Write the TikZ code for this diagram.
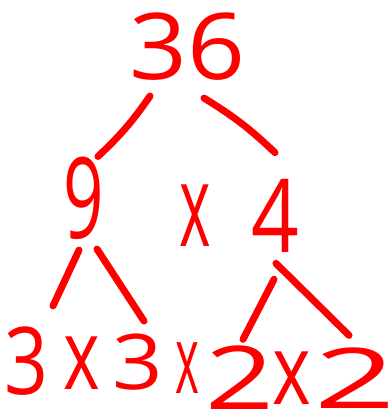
\documentclass[tikz,border=0pt]{standalone}
\usepackage{fontspec}
\setmainfont{Open Sans}
\usetikzlibrary{calc}
\tikzstyle{digit} = [
    text=red,
    inner sep=0pt
]
\tikzstyle{branch} = [
    draw=red,
    line width=5pt,
    line cap=round
]
\newcommand{\handsize}[1]{\fontsize{#1}{#1}\selectfont}

\begin{document}
\begin{tikzpicture}[x=0.025cm, y=-0.025cm]
        \useasboundingbox (0,0) rectangle (388,410);

        % Top
        \node[digit, font=\handsize{65.5pt}, xscale=1.1] (n36) at (187,47) {36};

        % Middle row
        \node[digit, font=\handsize{80pt}, xscale=0.63] (n9) at (84,198) {9};
        \node[digit, font=\handsize{82pt}, xscale=0.52] (times) at (195,216) {x};
        \node[digit, font=\handsize{72.5pt}, xscale=0.82] (n4) at (275,216) {4};

        % Bottom row
        \node[digit, font=\handsize{66.5pt}, xscale=0.82] (b3a) at (26,361) {3};
        \node[digit, font=\handsize{70pt}, xscale=0.71] (bx1) at (82,363) {x};
        \node[digit, font=\handsize{54.6pt}, xscale=1.15] (b3b) at (138,362) {3};
        \node[digit, font=\handsize{67.6pt}, xscale=0.48] (bx2) at (187,368) {x};
        \node[digit, font=\handsize{62.6pt}, xscale=1.37] (b2a) at (240,378) {2};
        \node[digit, font=\handsize{70pt}, xscale=0.75] (bx3) at (292,378) {x};
        \node[digit, font=\handsize{59.6pt}, xscale=1.7] (b2b) at (355,378) {2};

        % Branches
        \draw[branch] ($(n36.south)+(-37,15)$) to[bend left=6] ($(n9.north)+(14,0)$);
        \draw[branch] ($(n36.south)+(17,17)$) to[bend left=6] ($(n4.north)+(0,-26.5)$);
        \draw[branch] ($(n9.south)+(-5,10.5)$) -- ($(b3a.north)+(27,-20.5)$);
        \draw[branch] ($(n9.south)+(13,9.5)$) -- ($(b3b.north)+(6,-12.5)$);
        \draw[branch] ($(n4.south)+(-1,26.5)$) -- ($(b2a.north)+(3,-6.5)$);
        \draw[branch] ($(n4.south)+(1,10.5)$) -- ($(b2b.north)+(-6,-12)$);
    \end{tikzpicture}
\end{document}
